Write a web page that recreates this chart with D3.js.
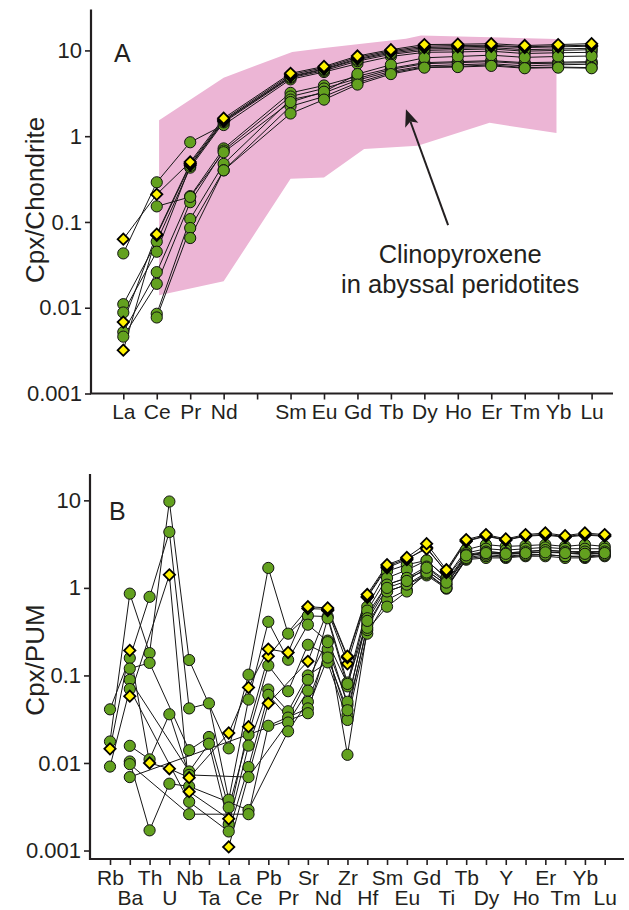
<!DOCTYPE html>
<html>
<head>
<meta charset="utf-8">
<script src="https://cdn.jsdelivr.net/npm/d3@7"></script>
<style>
body{margin:0;background:#fff}
text{font-family:Arial,"Liberation Sans",sans-serif;fill:#231f20}
</style>
</head>
<body>
<script>
var n = null;

// ---- panel A : REE, chondrite normalised ----
var reeA = ["La","Ce","Pr","Nd","Pm","Sm","Eu","Gd","Tb","Dy","Ho","Er","Tm","Yb","Lu"];
var reeALabels = ["La","Ce","Pr","Nd","","Sm","Eu","Gd","Tb","Dy","Ho","Er","Tm","Yb","Lu"];

var cpxA1 = [0.043, 0.29, 0.85, 1.35, n, 4.6, 5.6, 7.0, 8.5, 9.5, 9.6, 9.8, 9.2, 9.4, 9.5];
var cpxA2 = [0.011, 0.059, 0.43, 1.45, n, 4.8, 5.8, 7.5, 9.0, 10.0, 10.2, 10.4, 9.8, 10.0, 10.2];
var cpxA3 = [0.0088, 0.045, 0.45, 1.5, n, 4.9, 6.0, 7.8, 9.3, 10.4, 10.6, 10.8, 10.2, 10.4, 10.6];
var cpxA4 = [0.0052, 0.026, 0.2, 0.72, n, 3.2, 3.9, 5.0, 6.2, 7.2, 7.4, 7.6, 7.2, 7.3, 7.4];
var cpxA5 = [0.0046, 0.019, 0.17, 0.68, n, 2.9, 3.6, 4.7, 6.0, 7.0, 7.2, 7.4, 7.0, 7.1, 7.2];
var cpxA6 = [n, 0.0085, 0.108, 0.475, n, 2.67, 3.2, 4.5, 5.7, 6.6, 6.8, 7.0, 6.6, 6.8, 6.9];
var cpxA7 = [n, 0.0077, 0.085, 0.40, n, 2.23, 2.9, 4.2, 5.5, 6.4, 6.5, 6.8, 6.3, 6.4, 6.3];
var cpxA8 = [n, 0.152, 0.196, 0.65, n, 2.5, 3.3, 5.3, 6.8, 8.2, 8.5, 8.8, 8.3, 8.5, 8.6];
var cpxA9 = [n, n, 0.065, 0.40, n, 1.84, 2.67, 4.0, 5.3, 6.3, 6.4, 6.6, 6.2, 6.3, 6.2];
var cpxAd1 = [0.063, 0.21, 0.5, 1.62, n, 5.4, 6.5, 8.6, 10.2, 11.7, 11.8, 12.0, 11.4, 11.7, 12.0];
var cpxAd2 = [0.0068, 0.072, 0.48, 1.55, n, 5.2, 6.3, 8.3, 9.9, 11.2, 11.4, 11.5, 11.0, 11.3, 11.5];
var cpxAd3 = [0.0032, 0.07, 0.46, 1.5, n, 5.0, 6.1, 8.0, 9.6, 10.8, 11.0, 11.2, 10.8, 11.0, 11.2];

// abyssal peridotite cpx field (position along the REE axis, value)
var bandIdx = [1.07, 3, 5.05, 6, 8.45, 8.9, 12.95, 12.95, 10.95, 8.8, 7.2, 6, 5, 3, 1.07];
var bandVal = [1.53, 4.8, 9.6, 10.7, 13.7, 14.9, 13.6, 1.09, 1.43, 0.776, 0.71, 0.33, 0.32, 0.0203, 0.014];

// ---- panel B : trace elements, PUM normalised ----
var elemB = ["Rb","Ba","Th","U","Nb","Ta","La","Ce","Pb","Pr","Sr","Nd","Zr","Hf","Sm","Eu","Gd","Ti","Tb","Dy","Y","Ho","Er","Tm","Yb","Lu"];

var cpxB1 = [0.0176, 0.86, 0.18, 9.7, 0.15, n, 0.0147, 0.102, 1.69, 0.30, 0.48, 0.47, 0.083, 0.61, 1.55, 1.84, 2.06, 1.30, 2.73, 3.12, 2.98, 3.04, 3.12, 2.98, 3.12, 2.98];
var cpxB2 = [0.041, 0.158, 0.79, 4.35, 0.042, 0.048, 0.0038, 0.053, 0.41, 0.151, 0.38, 0.245, 0.046, 0.50, 1.09, 1.30, 1.58, 1.09, 2.29, 2.50, 2.40, 2.50, 2.60, 2.50, 2.40, 2.50];
var cpxB3 = [n, 0.12, 0.139, n, 0.014, 0.0198, 0.0031, 0.021, 0.13, 0.066, 0.224, 0.172, 0.035, 0.38, 0.91, 1.09, 1.39, 0.98, 2.10, 2.20, 2.20, 2.30, 2.30, 2.20, 2.20, 2.30];
var cpxB4 = [n, 0.089, n, n, 0.008, 0.0166, 0.002, 0.0158, 0.069, 0.039, 0.10, 0.141, 0.031, 0.30, 0.73, 0.95, 1.45, 1.0, 2.15, 2.3, 2.25, 2.35, 2.4, 2.3, 2.25, 2.35];
var cpxB5 = [0.0091, 0.07, n, n, 0.0036, n, 0.00165, 0.009, 0.06, 0.033, 0.089, 0.25, 0.0124, 0.33, 0.61, 0.91, 1.58, 1.09, 2.29, 2.6, 2.5, 2.6, 2.7, 2.6, 2.5, 2.6];
var cpxB6 = [n, 0.0157, 0.011, 0.036, 0.0073, n, n, 0.0069, n, 0.029, 0.067, 0.45, 0.075, 0.55, 1.3, 1.6, 2.06, 1.3, 2.5, 2.8, 2.7, 2.8, 2.9, 2.8, 2.8, 2.8];
var cpxB7 = [n, 0.0104, 0.0017, 0.0058, 0.0054, n, n, 0.0029, n, 0.023, 0.05, 0.2, 0.05, 0.45, 1.09, 1.3, 1.75, 1.2, 2.4, 2.6, 2.5, 2.6, 2.7, 2.6, 2.6, 2.6];
var cpxB8 = [n, 0.0097, n, n, 0.0026, n, n, 0.0026, 0.0266, n, 0.042, 0.16, 0.04, 0.35, 0.91, 1.09, 1.5, 1.0, 2.2, 2.4, 2.3, 2.4, 2.4, 2.3, 2.3, 2.4];
var cpxB9 = [n, 0.0069, n, n, n, n, n, n, n, n, 0.037, 0.24, 0.08, 0.42, 1.0, 1.2, 1.7, 1.15, 2.35, 2.5, 2.45, 2.5, 2.55, 2.5, 2.45, 2.5];
var cpxBd1 = [0.0145, 0.193, 0.01, 0.0086, 0.0068, n, 0.022, 0.073, 0.2, 0.183, 0.61, 0.59, 0.166, 0.84, 1.84, 2.23, 3.2, 1.61, 3.56, 4.06, 3.63, 4.06, 4.24, 3.95, 4.24, 4.06];
var cpxBd2 = [n, 0.058, n, 1.41, 0.0047, n, 0.0023, 0.026, 0.166, n, 0.58, 0.57, 0.16, 0.8, 1.78, 2.15, 2.8, 1.55, 3.45, 3.95, 3.55, 3.95, 4.1, 3.85, 4.1, 3.95];
var cpxBd3 = [n, n, n, n, n, n, 0.0011, n, 0.048, n, 0.145, 0.55, 0.136, 0.78, 1.7, 2.1, 2.9, 1.5, 3.4, 3.9, 3.5, 3.9, 4.0, 3.8, 4.0, 3.9];

var yTicks = [0.001, 0.01, 0.1, 1, 10];

var width = 629, height = 910;
var svg = d3.select("body").append("svg")
  .attr("width", width)
  .attr("height", height);

var ink = "#231f20";
var green = "#63a11f";
var yellow = "#fff200";

var drawPanel = function(p)
{
  var g = svg.append("g");

  if (p.band) {
    var pts = p.band.idx.map(function(d,i){ return [p.x(d), p.y(p.band.val[i])]; });
    g.append("polygon")
      .attr("points", pts.map(function(d){ return d.join(","); }).join(" "))
      .attr("fill", "#ecb5d5");
  }

  var line = d3.line()
    .x(function(d){ return p.x(d[0]); })
    .y(function(d){ return p.y(d[1]); });

  var toPts = function(vals){
    return vals.map(function(v,i){ return [i,v]; })
               .filter(function(d){ return d[1] != null; });
  };

  var all = p.circles.concat(p.diamonds);
  all.forEach(function(s){
    g.append("path")
      .attr("d", line(toPts(s)))
      .attr("fill", "none")
      .attr("stroke", "#161616")
      .attr("stroke-width", 1);
  });

  p.circles.forEach(function(s){
    g.append("g").selectAll("circle")
      .data(toPts(s))
      .enter()
      .append("circle")
      .attr("cx", function(d){ return p.x(d[0]); })
      .attr("cy", function(d){ return p.y(d[1]); })
      .attr("r", 5.6)
      .attr("fill", green)
      .attr("stroke", "#111")
      .attr("stroke-width", 1);
  });

  var diamond = d3.symbol().type(d3.symbolSquare).size(64);
  p.diamonds.forEach(function(s){
    g.append("g").selectAll("path")
      .data(toPts(s))
      .enter()
      .append("path")
      .attr("d", diamond)
      .attr("transform", function(d){
        return "translate(" + p.x(d[0]) + "," + p.y(d[1]) + ") rotate(45)";
      })
      .attr("fill", yellow)
      .attr("stroke", "#000")
      .attr("stroke-width", 1.8);
  });

  // axes
  var yAxis = d3.axisLeft(p.y)
    .tickValues(yTicks)
    .tickFormat(function(d){ return String(d); })
    .tickSize(6)
    .tickPadding(3)
    .tickSizeOuter(0);
  var ya = g.append("g")
    .attr("transform", "translate(" + p.left + ",0)")
    .call(yAxis);
  ya.select(".domain").remove();
  ya.selectAll("line").attr("stroke", ink).attr("stroke-width", 1.6);
  ya.selectAll("text").style("font-size", "22px").attr("fill", ink);

  var xAxis = d3.axisBottom(p.x)
    .tickValues(d3.range(p.labels.length))
    .tickFormat(function(i){ return p.labels[i]; })
    .tickSize(6)
    .tickSizeOuter(0);
  var xa = g.append("g")
    .attr("transform", "translate(0," + p.bottom + ")")
    .call(xAxis);
  xa.select(".domain").remove();
  xa.selectAll("line").attr("stroke", ink).attr("stroke-width", 1.6);
  xa.selectAll("text")
    .style("font-size", "21px")
    .attr("fill", ink)
    .attr("y", function(i){ return p.twoRows && i % 2 ? p.rowGap + 11 : 11; });

  g.append("path")
    .attr("d", "M" + p.left + "," + p.top + "V" + p.bottom + "H" + p.right)
    .attr("fill", "none")
    .attr("stroke", ink)
    .attr("stroke-width", 2.2);

  g.append("text")
    .attr("transform", "translate(" + p.titleX + "," + p.titleY + ") rotate(-90)")
    .attr("text-anchor", "middle")
    .style("font-size", "26px")
    .text(p.title);

  g.append("text")
    .attr("x", p.letterX)
    .attr("y", p.letterY)
    .style("font-size", "25px")
    .text(p.letter);

  return g;
}

// panel A
var xA = d3.scaleLinear().domain([0, reeA.length - 1]).range([123.3, 591.6]);
var yA = d3.scaleLog().domain([0.001, 30]).range([393.5, 9.5]);

var gA = drawPanel({
  x: xA, y: yA,
  left: 91, right: 613, top: 9.5, bottom: 393.5,
  labels: reeALabels, twoRows: false,
  circles: [cpxA1, cpxA2, cpxA3, cpxA4, cpxA5, cpxA6, cpxA7, cpxA8, cpxA9],
  diamonds: [cpxAd3, cpxAd2, cpxAd1],
  band: {idx: bandIdx, val: bandVal},
  title: "Cpx/Chondrite", titleX: 44, titleY: 200,
  letter: "A", letterX: 114, letterY: 62
});

// annotation arrow and label, in data coordinates
var arrowTail = [9.71, 0.092];
var arrowHead = [8.45, 2.06];
var noteAt = [10.07, 0.0334, 0.0147];

var x1 = xA(arrowTail[0]), y1 = yA(arrowTail[1]);
var x2 = xA(arrowHead[0]), y2 = yA(arrowHead[1]);
var ang = Math.atan2(y2 - y1, x2 - x1);
var headLen = 17, headW = 7;
var bx = x2 - headLen * Math.cos(ang), by = y2 - headLen * Math.sin(ang);
gA.append("line")
  .attr("x1", x1).attr("y1", y1)
  .attr("x2", bx + 4 * Math.cos(ang)).attr("y2", by + 4 * Math.sin(ang))
  .attr("stroke", ink)
  .attr("stroke-width", 2);
gA.append("polygon")
  .attr("points", [
    [x2, y2],
    [bx + headW * Math.sin(ang), by - headW * Math.cos(ang)],
    [bx + 4 * Math.cos(ang), by + 4 * Math.sin(ang)],
    [bx - headW * Math.sin(ang), by + headW * Math.cos(ang)]
  ].map(function(d){ return d.join(","); }).join(" "))
  .attr("fill", ink);

gA.append("text")
  .attr("x", xA(noteAt[0])).attr("y", yA(noteAt[1]))
  .attr("text-anchor", "middle")
  .style("font-size", "25.5px")
  .text("Clinopyroxene");
gA.append("text")
  .attr("x", xA(noteAt[0])).attr("y", yA(noteAt[2]))
  .attr("text-anchor", "middle")
  .style("font-size", "25.5px")
  .text("in abyssal peridotites");

// panel B
var xB = d3.scaleLinear().domain([0, elemB.length - 1]).range([110, 604.7]);
var yB = d3.scaleLog().domain([0.0008, 20]).range([859, 474]);

drawPanel({
  x: xB, y: yB,
  left: 90, right: 624, top: 474, bottom: 859,
  labels: elemB, twoRows: true, rowGap: 20,
  circles: [cpxB1, cpxB2, cpxB3, cpxB4, cpxB5, cpxB6, cpxB7, cpxB8, cpxB9],
  diamonds: [cpxBd3, cpxBd2, cpxBd1],
  title: "Cpx/PUM", titleX: 44, titleY: 660,
  letter: "B", letterX: 109, letterY: 520
});
</script>
</body>
</html>
